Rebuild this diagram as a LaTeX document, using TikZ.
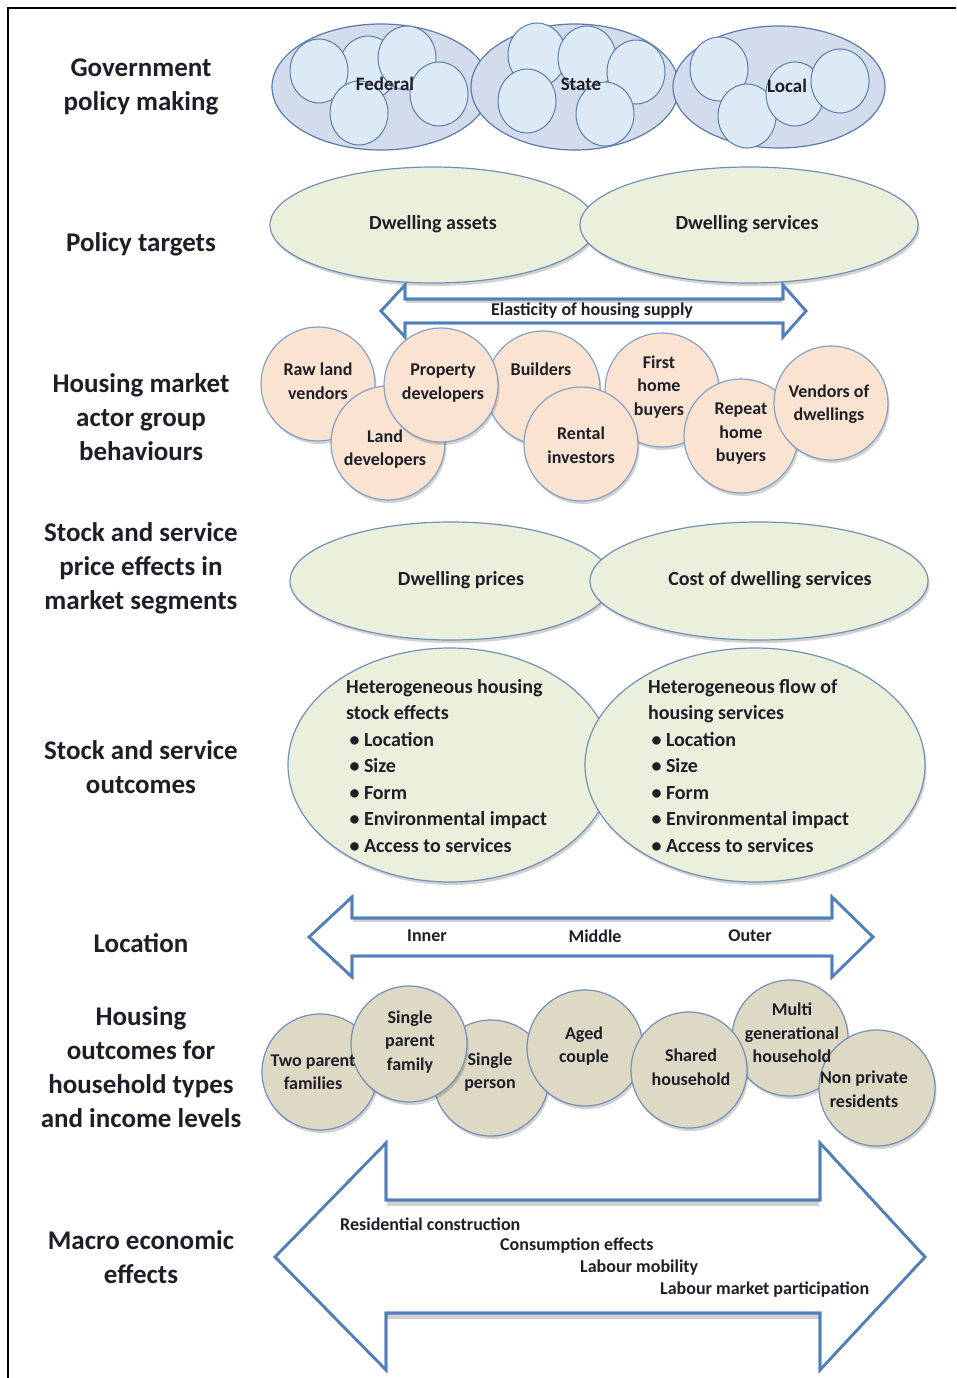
\documentclass[tikz,border=0pt]{standalone}
\usepackage{fontspec}
\setmainfont{Carlito}
\usetikzlibrary{shapes.geometric,shadows}
\definecolor{govfill}{HTML}{D3DCEC}
\definecolor{govline}{HTML}{5B7BAA}
\definecolor{smallfill}{HTML}{DCEAF6}
\definecolor{greenfill}{HTML}{EBF0DC}
\definecolor{ellline}{HTML}{7290B8}
\definecolor{peach}{HTML}{FBE3D2}
\definecolor{khaki}{HTML}{DDD9C5}
\definecolor{arrowblue}{HTML}{4F7FBC}
\definecolor{txt}{HTML}{1E1E28}
\begin{document}
\begin{tikzpicture}[x=1pt,y=-1pt,
  shade/.style={drop shadow={shadow xshift=1.5pt,shadow yshift=-3pt,opacity=0.25,fill=black!70}},
  bigell/.style={ellipse,draw=govline,fill=govfill,line width=1.2pt,inner sep=0pt},
  smallc/.style={ellipse,draw=govline,fill=smallfill,line width=1pt,minimum width=58pt,minimum height=64pt,inner sep=0pt},
  greenell/.style={ellipse,draw=ellline,fill=greenfill,line width=1.2pt,inner sep=0pt,shade},
  actor/.style={circle,draw=ellline!85,fill=peach,line width=1.2pt,minimum size=114pt,inner sep=0pt,shade},
  hh/.style={circle,draw=ellline,fill=khaki,line width=1.2pt,minimum size=116pt,inner sep=0pt,shade},
  lbl/.style={font=\fontsize{27}{34}\selectfont\bfseries,align=center,text=txt,inner sep=0pt},
  itxt/.style={font=\fontsize{20}{25}\selectfont\bfseries,align=center,text=txt,inner sep=0pt},
  stxt/.style={font=\fontsize{18}{23.5}\selectfont\bfseries,align=center,text=txt,inner sep=0pt},
  ltxt/.style={font=\fontsize{20}{26.5}\selectfont\bfseries,align=left,text=txt,inner sep=0pt,anchor=west},
  atxt/.style={font=\fontsize{18}{20}\selectfont\bfseries,text=txt,inner sep=0pt},
  arrowline/.style={draw=arrowblue,line width=2.6pt,line join=miter,fill=white},
  arrowshadow/.style={draw=black,opacity=0.18,line width=4pt,line join=miter}
]
\useasboundingbox (0,0) rectangle (956,1378);
\fill[white] (0,0) rectangle (956,1378);
% frame
\draw[line width=2.5pt,black] (8,1378) -- (8,8) -- (956,8);

% left labels
\node[lbl] (l1) at (141,87) {Government\\policy making};
\node[lbl] (l2) at (141,244) {Policy targets};
\node[lbl] (l3) at (141,417) {Housing market\\actor group\\behaviours};
\node[lbl] (l4) at (141,568) {Stock and service\\price effects in\\market segments};
\node[lbl] (l5) at (141,767) {Stock and service\\outcomes};
\node[lbl] (l6) at (141,943) {Location};
\node[lbl] (l7) at (141,1067) {Housing\\outcomes for\\household types\\and income levels};
\node[lbl] (l8) at (141,1257) {Macro economic\\effects};

% Row 1: government
\node[bigell,minimum width=218pt,minimum height=126pt] (fed) at (381,87) {};
\node[smallc] (f2) at (368,68) {};
\node[smallc] (f1) at (319,71) {};
\node[smallc] (f3) at (407,58) {};
\node[smallc] (f5) at (359,113) {};
\node[smallc] (f4) at (439,94) {};
\node[atxt,font=\fontsize{19}{20}\selectfont\bfseries] (fedt) at (385,84) {Federal};

\node[bigell,minimum width=208pt,minimum height=126pt] (sta) at (575,87) {};
\node[smallc] (s1) at (537,55) {};
\node[smallc] (s2) at (587,58) {};
\node[smallc] (s3) at (636,72) {};
\node[smallc] (s4) at (527,101) {};
\node[smallc] (s5) at (605,114) {};
\node[atxt,font=\fontsize{19}{20}\selectfont\bfseries] (stat) at (581,84) {State};

\node[bigell,minimum width=212pt,minimum height=122pt] (loc) at (779,87) {};
\node[smallc] (o1) at (719,69) {};
\node[smallc] (o2) at (747,116) {};
\node[smallc] (o3) at (795,94) {};
\node[smallc] (o4) at (840,81) {};
\node[atxt,font=\fontsize{19}{20}\selectfont\bfseries] (loct) at (787,86) {Local};

% Row 2: policy targets
\node[greenell,minimum width=326pt,minimum height=116pt] (da) at (433,225) {};
\node[greenell,minimum width=338pt,minimum height=116pt] (ds) at (749,225) {};
\node[itxt] (dat) at (433,224) {Dwelling assets};
\node[itxt] (dst) at (747,224) {Dwelling services};

% Elasticity arrow
\path[arrowline] (381,311) -- (405,285) -- (405,299) -- (783,299) -- (783,285) -- (806,311) -- (783,337) -- (783,323) -- (405,323) -- (405,337) -- cycle;
\draw[arrowshadow,line width=3pt] (406,301.5) -- (782,301.5);
\draw[arrowline,fill=none] (381,311) -- (405,285) -- (405,299) -- (783,299) -- (783,285) -- (806,311) -- (783,337) -- (783,323) -- (405,323) -- (405,337) -- cycle;
\node[atxt] (elas) at (592,311) {Elasticity of housing supply};

% Row 3: actors
\node[actor] (raw) at (318,384) {};
\node[actor] (bld) at (543,388) {};
\node[actor] (lnd) at (388,443) {};
\node[actor] (prop) at (441,385) {};
\node[actor] (first) at (662,390) {};
\node[actor] (rent) at (581,444) {};
\node[actor] (rep) at (741,436) {};
\node[actor] (vend) at (831,403) {};
\node[stxt] (rawt) at (318,381) {Raw land\\vendors};
\node[stxt] (propt) at (443,383) {Property\\developers};
\node[stxt] (bldt) at (541,369) {Builders};
\node[stxt] (lndt) at (385,449) {Land\\developers};
\node[stxt] (rentt) at (581,445) {Rental\\investors};
\node[stxt] (firstt) at (659,387) {First\\home\\buyers};
\node[stxt] (rept) at (741,434) {Repeat\\home\\buyers};
\node[stxt] (vendt) at (829,404) {Vendors of\\dwellings};

% Row 4: price effects
\node[greenell,minimum width=322pt,minimum height=118pt] (dp) at (451,581) {};
\node[greenell,minimum width=338pt,minimum height=118pt] (cd) at (759,581) {};
\node[itxt] (dpt) at (461,580) {Dwelling prices};
\node[itxt] (cdt) at (770,580) {Cost of dwelling services};

% Row 5: outcomes
\node[greenell,minimum width=324pt,minimum height=234pt] (hs) at (450,765) {};
\node[greenell,minimum width=340pt,minimum height=234pt] (hf) at (755,765) {};
\node[ltxt] (hst) at (346,766) {Heterogeneous housing\\stock effects\\\,\textbullet\ Location\\\,\textbullet\ Size\\\,\textbullet\ Form\\\,\textbullet\ Environmental impact\\\,\textbullet\ Access to services};
\node[ltxt] (hft) at (648,766) {Heterogeneous flow of\\housing services\\\,\textbullet\ Location\\\,\textbullet\ Size\\\,\textbullet\ Form\\\,\textbullet\ Environmental impact\\\,\textbullet\ Access to services};

% Row 6: location arrow
\path[arrowline] (309,937) -- (352,897) -- (352,918) -- (832,918) -- (832,897) -- (873,937) -- (832,977) -- (832,956) -- (352,956) -- (352,977) -- cycle;
\draw[arrowshadow,line width=3pt] (353,920.5) -- (831,920.5);
\draw[arrowline,fill=none] (309,937) -- (352,897) -- (352,918) -- (832,918) -- (832,897) -- (873,937) -- (832,977) -- (832,956) -- (352,956) -- (352,977) -- cycle;
\node[atxt] (inner) at (427,936) {Inner};
\node[atxt] (middle) at (595,936) {Middle};
\node[atxt] (outer) at (750,936) {Outer};

% Row 7: households
\node[hh] (two) at (320,1072) {};
\node[hh] (sp) at (491,1078) {};
\node[hh] (aged) at (585,1048) {};
\node[hh] (spf) at (409,1044) {};
\node[hh] (multi) at (790,1038) {};
\node[hh] (shared) at (689,1070) {};
\node[hh] (nonp) at (877,1088) {};
\node[stxt] (twot) at (313,1072) {Two parent\\families};
\node[stxt] (spft) at (410,1042) {Single\\parent\\family};
\node[stxt] (spt) at (490,1072) {Single\\person};
\node[stxt] (agedt) at (584,1046) {Aged\\couple};
\node[stxt] (sharedt) at (691,1067) {Shared\\household};
\node[stxt] (multit) at (792,1033) {Multi\\generational\\household};
\node[stxt] (nonpt) at (864,1089) {Non private\\residents};

% Row 8: macro arrow
\path[arrowline] (275,1257) -- (386,1143) -- (386,1200) -- (820,1200) -- (820,1143) -- (925,1257) -- (820,1370) -- (820,1313) -- (386,1313) -- (386,1370) -- cycle;
\draw[arrowshadow,line width=5pt] (387,1203.5) -- (819,1203.5);
\draw[arrowshadow,line width=5pt] (387,1316.5) -- (819,1316.5);
\draw[arrowline,fill=none] (275,1257) -- (386,1143) -- (386,1200) -- (820,1200) -- (820,1143) -- (925,1257) -- (820,1370) -- (820,1313) -- (386,1313) -- (386,1370) -- cycle;
\node[atxt,anchor=west] (rc) at (340,1224) {Residential construction};
\node[atxt,anchor=west] (ce) at (500,1246) {Consumption effects};
\node[atxt,anchor=west] (lm) at (580,1268) {Labour mobility};
\node[atxt,anchor=west] (lmp) at (660,1290) {Labour market participation};
\end{tikzpicture}
\end{document}
